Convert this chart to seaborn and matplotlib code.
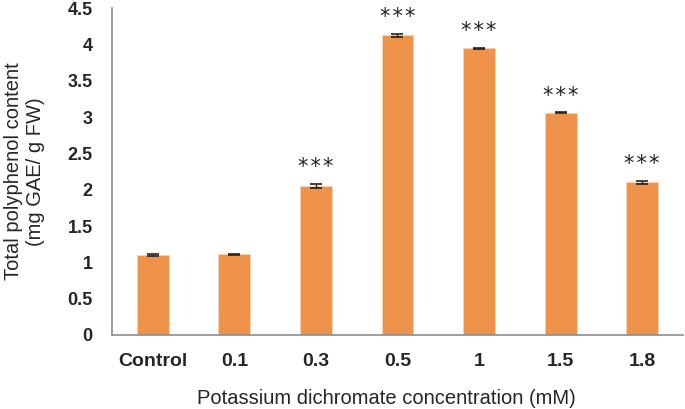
import matplotlib.pyplot as plt
import pandas as pd
import seaborn as sns

categories = ["Control", "0.1", "0.3", "0.5", "1", "1.5", "1.8"]
polyphenol = [1.10, 1.11, 2.05, 4.13, 3.95, 3.06, 2.10]
errors = [0.01, 0.01, 0.03, 0.02, 0.006, 0.006, 0.02]
significance = ["", "", "***", "***", "***", "***", "***"]

BAR_COLOR = "#F0934A"
AXIS_COLOR = "#8c8c8c"

sns.set_theme(style="white")
plt.rcParams["font.family"] = ["Liberation Sans", "DejaVu Sans"]

df = pd.DataFrame({"conc": categories, "tpc": polyphenol, "err": errors})

fig = plt.figure(figsize=(6.85, 4.09), dpi=100)
ax = fig.add_axes([0.1635, 0.181, 0.8335, 0.799])

sns.barplot(data=df, x="conc", y="tpc", color=BAR_COLOR, saturation=1,
            width=0.39, errorbar=None, ax=ax)
for bar in ax.patches:
    bar.set_edgecolor("#f8d2b2")
    bar.set_linewidth(0.6)

xpos = range(len(categories))
ax.errorbar(xpos, df["tpc"], yerr=df["err"], fmt="none", ecolor="#222222",
            elinewidth=1.0, capsize=4.5, capthick=1.2)

# significance stars above the bars
for x, v, e, s in zip(xpos, polyphenol, errors, significance):
    if s:
        ax.text(x, v + e + 0.23, "\u200a".join(s), ha="center", va="center",
                fontsize=15, color="#222222", family=["DejaVu Sans"])

ax.set_xlim(-0.5, len(categories) - 0.5)
ax.set_ylim(0, 4.5)
ax.set_yticks([0, 0.5, 1, 1.5, 2, 2.5, 3, 3.5, 4, 4.5])
ax.set_yticklabels(["0", "0.5", "1", "1.5", "2", "2.5", "3", "3.5", "4", "4.5"],
                   fontsize=13, fontweight="bold")
ax.set_xticks(range(len(categories)))
ax.set_xticklabels(categories, fontsize=14, fontweight="bold")

# category boundary ticks on the x axis, like the spreadsheet original
ax.set_xticks([i - 0.5 for i in range(len(categories) + 1)], minor=True)
ax.tick_params(axis="x", which="major", length=0, pad=13)
ax.tick_params(axis="x", which="minor", length=5, width=1, color=AXIS_COLOR, direction="out")
ax.tick_params(axis="y", length=5, width=1, color=AXIS_COLOR, direction="out", pad=9)

for side in ["top", "right"]:
    ax.spines[side].set_visible(False)
for side in ["left", "bottom"]:
    ax.spines[side].set_color(AXIS_COLOR)
    ax.spines[side].set_linewidth(1.2)

ax.set_xlabel("Potassium dichromate concentration (mM)", fontsize=14.5)
ax.xaxis.set_label_coords(0.48, -0.165)
ax.set_ylabel("Total polyphenol content\n(mg GAE/ g FW)", fontsize=14.5, linespacing=1.15)
ax.yaxis.set_label_coords(-0.118, 0.5)

fig.savefig("out.png", dpi=100, facecolor="white")
